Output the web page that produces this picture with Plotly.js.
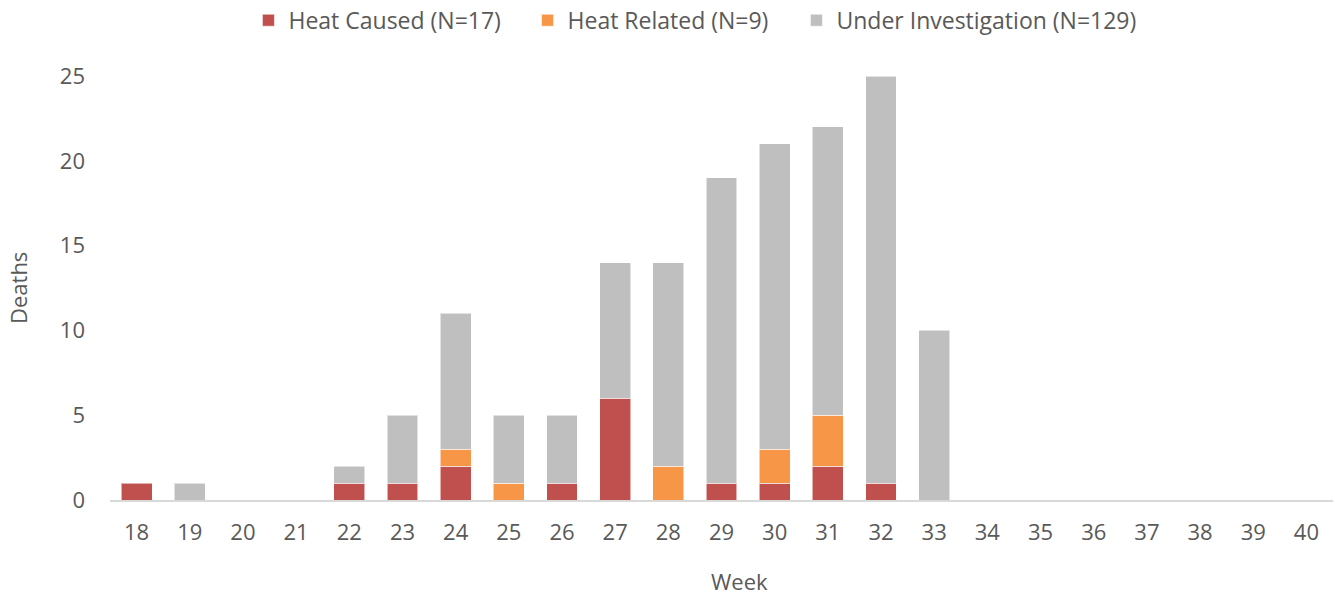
<!DOCTYPE html>
<html>
<head>
<meta charset="utf-8">
<script src="https://cdn.plot.ly/plotly-3.0.1.min.js"></script>
<style>html,body{margin:0;padding:0;background:#fff;}#chart{width:1335px;height:596px;}</style>
</head>
<body>
<div id="chart"></div>
<script>
const weeks = ['18','19','20','21','22','23','24','25','26','27','28','29','30','31','32','33','34','35','36','37','38','39','40'];
const heatCaused = [1,0,0,0,1,1,2,0,1,6,0,1,1,2,1,0,0,0,0,0,0,0,0];
const heatRelated = [0,0,0,0,0,0,1,1,0,0,2,0,2,3,0,0,0,0,0,0,0,0,0];
const underInvestigation = [0,1,0,0,1,4,8,4,4,8,12,18,18,17,24,10,0,0,0,0,0,0,0];
const seriesNames = ['Heat Caused (N=17)','Heat Related (N=9)','Under Investigation (N=129)'];
const yTicks = [0,5,10,15,20,25];

const FONT = 'Open Sans, sans-serif';
const TXT = '#595959';
const outline = {color:'rgba(255,255,255,0.55)', width:1};

function nz(a){ return a.map(v => v === 0 ? null : v); }

const traces = [
  {type:'bar', name:seriesNames[0], legend:'legend', x:weeks, y:nz(heatCaused), marker:{color:'#C0504D', line:outline}},
  {type:'bar', name:seriesNames[1], legend:'legend2', x:weeks, y:nz(heatRelated), marker:{color:'#F79646', line:outline}},
  {type:'bar', name:seriesNames[2], legend:'legend3', x:weeks, y:nz(underInvestigation), marker:{color:'#BFBFBF', line:outline}}
];

function leg(x){
  return {orientation:'h', x:x, xanchor:'left', y:0.966, yanchor:'middle', yref:'container',
          font:{family:FONT, size:23, color:TXT}, itemwidth:30, itemclick:false, bgcolor:'rgba(0,0,0,0)'};
}

const layout = {
  width:1335, height:596,
  barmode:'stack', bargap:0.42,
  paper_bgcolor:'#fff', plot_bgcolor:'#fff',
  font:{family:FONT, size:22, color:TXT},
  margin:{l:110, r:2, t:76, b:96},
  showlegend:true,
  legend:leg(0.1132),
  legend2:leg(0.3414),
  legend3:leg(0.5613),
  xaxis:{type:'category', categoryorder:'array', categoryarray:weeks,
         showgrid:false, zeroline:false, showline:true, linecolor:'#D9D9D9', linewidth:1.5,
         ticks:'', ticklabelstandoff:12, tickfont:{family:FONT, size:22, color:TXT}, fixedrange:true},
  yaxis:{range:[0,25], tickvals:yTicks, ticktext:yTicks.map(String),
         showgrid:false, zeroline:false, showline:false,
         ticks:'', ticklabelstandoff:24, tickfont:{family:FONT, size:22, color:TXT}, fixedrange:true},
  annotations:[
    {text:'Week', xref:'paper', yref:'paper', x:0.515, y:-0.19, xanchor:'center', yanchor:'middle', showarrow:false,
     font:{family:FONT, size:22, color:TXT}},
    {text:'Deaths', xref:'paper', yref:'paper', x:0, xshift:-92, y:0.5, xanchor:'center', yanchor:'middle', textangle:-90, showarrow:false,
     font:{family:FONT, size:22, color:TXT}}
  ]
};

Plotly.newPlot('chart', traces, layout, {displayModeBar:false, staticPlot:true});
</script>
</body>
</html>
